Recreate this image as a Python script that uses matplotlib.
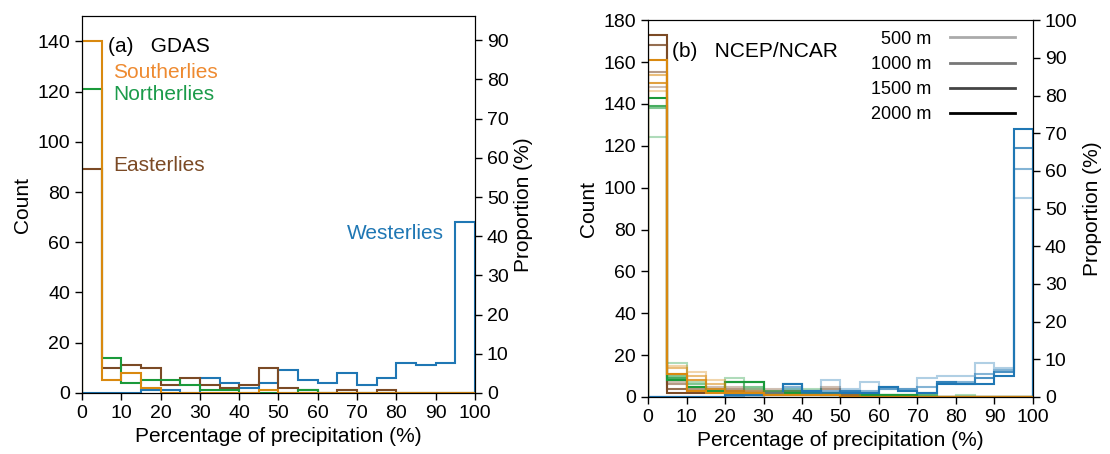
import matplotlib

matplotlib.use("Agg")
import matplotlib.pyplot as plt
import numpy as np

plt.rcParams["font.family"] = ["Liberation Sans", "DejaVu Sans"]

EDGES = np.arange(0, 101, 5)

# panel (a): GDAS counts per 5 % bin
gdas_west = [0, 0, 0, 1, 1, 0, 6, 4, 2, 4, 9, 5, 4, 8, 3, 6, 12, 11, 12, 68]
gdas_east = [89, 10, 11, 10, 3, 6, 3, 2, 3, 10, 2, 1, 0, 1, 0, 1, 0, 0, 0, 0]
gdas_north = [121, 14, 4, 5, 5, 3, 1, 1, 0, 0, 0, 1, 0, 0, 0, 0, 0, 0, 0, 0]
gdas_south = [140, 5, 8, 2, 0, 0, 0, 0, 0, 1, 0, 0, 0, 0, 0, 0, 0, 0, 0, 0]
GDAS_TOTAL = 156

# panel (b): NCEP/NCAR counts, one list per starting height
heights = ["500 m", "1000 m", "1500 m", "2000 m"]
ncep_west = [
    [0, 0, 0, 0, 0, 0, 1, 4, 3, 8, 4, 7, 4, 4, 9, 10, 10, 16, 14, 95],
    [0, 0, 0, 0, 0, 1, 2, 5, 3, 3, 3, 3, 4, 4, 5, 7, 7, 11, 13, 109],
    [0, 0, 0, 0, 1, 1, 2, 6, 2, 2, 3, 2, 5, 3, 2, 7, 6, 9, 12, 119],
    [0, 0, 0, 0, 1, 1, 2, 6, 3, 1, 2, 2, 5, 3, 2, 6, 6, 6, 10, 128],
]
ncep_north = [
    [124, 16, 7, 3, 9, 4, 2, 4, 4, 2, 2, 1, 1, 1, 1, 0, 1, 0, 0, 0],
    [138, 10, 6, 3, 7, 5, 3, 3, 2, 2, 2, 1, 1, 1, 1, 0, 0, 0, 0, 0],
    [139, 9, 5, 3, 7, 7, 2, 2, 2, 1, 2, 1, 1, 1, 0, 0, 0, 0, 0, 0],
    [143, 8, 5, 3, 7, 7, 2, 2, 2, 1, 2, 1, 1, 1, 0, 0, 0, 0, 0, 0],
]
ncep_south = [
    [146, 15, 12, 8, 3, 3, 2, 1, 1, 1, 1, 0, 0, 0, 0, 0, 0, 0, 0, 0],
    [154, 14, 10, 6, 3, 2, 1, 1, 1, 1, 0, 0, 0, 0, 0, 0, 0, 0, 0, 0],
    [150, 11, 8, 4, 2, 2, 1, 1, 1, 1, 0, 0, 0, 0, 0, 0, 0, 0, 0, 0],
    [161, 11, 3, 2, 2, 2, 1, 1, 1, 1, 0, 0, 0, 0, 0, 0, 0, 0, 0, 0],
]
ncep_east = [
    [148, 7, 5, 5, 5, 4, 4, 3, 3, 5, 2, 1, 1, 0, 0, 0, 0, 0, 0, 0],
    [155, 6, 4, 4, 4, 3, 3, 3, 3, 4, 1, 1, 0, 0, 0, 0, 0, 0, 0, 0],
    [168, 4, 3, 3, 3, 2, 2, 2, 2, 2, 1, 0, 0, 0, 0, 0, 0, 0, 0, 0],
    [173, 2, 2, 2, 2, 2, 1, 1, 1, 1, 0, 0, 0, 0, 0, 0, 0, 0, 0, 0],
]
NCEP_TOTAL = 180

BLUE, BROWN, GREEN, ORANGE = "#1f77b4", "#7b4a25", "#1a9a3a", "#d9890f"
ALPHAS = [0.35, 0.55, 0.8, 1.0]
GREYS = ["#aaaaaa", "#777777", "#444444", "#000000"]

fig = plt.figure(figsize=(11.1, 4.54), dpi=100)
ax_a = fig.add_axes([0.0739, 0.1344, 0.354, 0.830])
ax_b = fig.add_axes([0.5838, 0.1256, 0.3468, 0.830])


def style(ax, ymax, yticks):
    ax.set_xlim(0, 100)
    ax.set_ylim(0, ymax)
    ax.set_xticks(np.arange(0, 101, 10))
    ax.set_yticks(yticks)
    ax.tick_params(labelsize=14, length=5, width=1)
    ax.set_xlabel("Percentage of precipitation (%)", fontsize=15)
    ax.set_ylabel("Count", fontsize=15)


for values, color in [(gdas_west, BLUE), (gdas_east, BROWN), (gdas_north, GREEN), (gdas_south, ORANGE)]:
    ax_a.stairs(values, EDGES, color=color, linewidth=1.5)
style(ax_a, 150, np.arange(0, 141, 20))
ax_a.text(6.6, 138, "(a)   GDAS", fontsize=15, va="center")
ax_a.text(7.9, 127.5, "Southerlies", fontsize=15, color="#ee8a30", va="center")
ax_a.text(7.9, 119, "Northerlies", fontsize=15, color="#1b9b4a", va="center")
ax_a.text(7.9, 90.5, "Easterlies", fontsize=15, color=BROWN, va="center")
ax_a.text(92, 63.5, "Westerlies", fontsize=15, color=BLUE, va="center", ha="right")
right_a = ax_a.twinx()
right_a.set_ylim(0, 150 / GDAS_TOTAL * 100)
right_a.set_yticks(np.arange(0, 91, 10))
right_a.tick_params(labelsize=14, length=5, width=1)
right_a.set_ylabel("Proportion (%)", fontsize=15)

for group, color in [(ncep_east, BROWN), (ncep_north, GREEN), (ncep_west, BLUE), (ncep_south, ORANGE)]:
    for values, alpha in zip(group, ALPHAS):
        ax_b.stairs(values, EDGES, color=color, alpha=alpha, linewidth=1.5)
style(ax_b, 180, np.arange(0, 181, 20))
ax_b.text(6.2, 165, "(b)   NCEP/NCAR", fontsize=15, va="center")
handles = [ax_b.plot([], [], color=g, linewidth=2)[0] for g in GREYS]
ax_b.legend(handles, heights, loc="upper right", markerfirst=False, frameon=False,
            fontsize=13, handlelength=3.6, handletextpad=1.0, labelspacing=0.45,
            bbox_to_anchor=(0.995, 1.015))
right_b = ax_b.twinx()
right_b.set_ylim(0, 180 / NCEP_TOTAL * 100)
right_b.set_yticks(np.arange(0, 101, 10))
right_b.tick_params(labelsize=14, length=5, width=1)
right_b.set_ylabel("Proportion (%)", fontsize=15)

fig.savefig("out.png", dpi=100)
